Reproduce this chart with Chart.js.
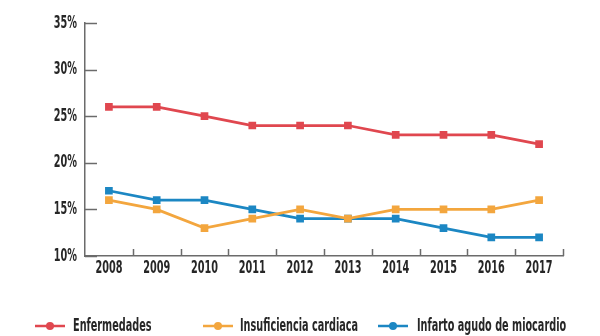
<!DOCTYPE html>
<html>
<head>
<meta charset="utf-8">
<script src="https://cdn.jsdelivr.net/npm/chart.js@4"></script>
<style>
  html, body { margin: 0; padding: 0; background: #fff; }
  #wrap { width: 600px; height: 336px; }
</style>
</head>
<body>
<div id="wrap"><canvas id="lineChart" width="600" height="336"></canvas></div>
<script>
const years = ['2008', '2009', '2010', '2011', '2012', '2013', '2014', '2015', '2016', '2017'];
const enfermedades = [26, 26, 25, 24, 24, 24, 23, 23, 23, 22];
const insuficiencia = [16, 15, 13, 14, 15, 14, 15, 15, 15, 16];
const infarto = [17, 16, 16, 15, 14, 14, 14, 13, 12, 12];
const yTicks = [10, 15, 20, 25, 30, 35];

const RED = '#e0474f';
const ORANGE = '#f3a63e';
const BLUE = '#1c87c3';
const AXIS = '#6b6b6b';
const TEXT = '#262626';
const FONT = "bold 18px 'DejaVu Sans Condensed', 'DejaVu Sans', sans-serif";

// legend slots: marker start x and text start x
const legendSlots = [[35, 73], [203, 240], [378, 417]];
const legendY = 326;

// draws text squeezed horizontally so it looks like a tall condensed face
let squeezed = function(ctx, text, x, y, align, sx) {
  ctx.save();
  ctx.translate(x, y);
  ctx.scale(sx, 1);
  ctx.textAlign = align;
  ctx.textBaseline = 'middle';
  ctx.fillText(text, 0, 0);
  ctx.restore();
}

// axis labels, inward ticks and the legend
const decorations = {
  id: 'decorations',
  afterDatasetsDraw(chart) {
    const ctx = chart.ctx;
    const x = chart.scales.x, y = chart.scales.y;
    ctx.save();
    ctx.font = FONT;
    const sx = 27 / ctx.measureText('2008').width;

    ctx.strokeStyle = AXIS;
    ctx.lineWidth = 1.5;
    y.ticks.forEach((t, i) => {
      const py = Math.round(y.getPixelForTick(i)) + 0.5;
      ctx.beginPath(); ctx.moveTo(y.right, py); ctx.lineTo(y.right + 12, py); ctx.stroke();
    });
    const step = (x.right - x.left) / years.length;
    for (let i = 1; i <= years.length; i++) {
      const px = Math.round(x.left + i * step) + 0.5;
      ctx.beginPath(); ctx.moveTo(px, x.top); ctx.lineTo(px, x.top - 7); ctx.stroke();
    }

    ctx.fillStyle = TEXT;
    y.ticks.forEach((t, i) => {
      squeezed(ctx, t.value + '%', y.right - 8, y.getPixelForTick(i), 'right', sx);
    });
    years.forEach((lab, i) => {
      squeezed(ctx, lab, x.getPixelForTick(i), x.top + 12, 'center', sx);
    });

    chart.data.datasets.forEach((ds, i) => {
      const [mx, tx] = legendSlots[i];
      ctx.strokeStyle = ds.borderColor;
      ctx.lineWidth = 2.5;
      ctx.beginPath(); ctx.moveTo(mx, legendY); ctx.lineTo(mx + 30, legendY); ctx.stroke();
      ctx.fillStyle = ds.borderColor;
      ctx.beginPath(); ctx.arc(mx + 15, legendY, 4, 0, Math.PI * 2); ctx.fill();
      ctx.fillStyle = TEXT;
      squeezed(ctx, ds.label, tx, legendY, 'left', sx);
    });
    ctx.restore();
  }
};

const series = (label, data, color) => ({
  label: label,
  data: data,
  borderColor: color,
  backgroundColor: color,
  borderWidth: 2.75,
  pointStyle: 'rect',
  pointRadius: 3.5,
  pointHoverRadius: 3.5,
  lineTension: 0,
  fill: false
});

new Chart(document.getElementById('lineChart').getContext('2d'), {
  type: 'line',
  data: {
    labels: years,
    datasets: [
      series('Enfermedades', enfermedades, RED),
      series('Insuficiencia cardiaca', insuficiencia, ORANGE),
      series('Infarto agudo de miocardio', infarto, BLUE)
    ]
  },
  plugins: [decorations],
  options: {
    responsive: false,
    animation: false,
    layout: { padding: { top: 23, right: 37, bottom: 0, left: 0 } },
    plugins: {
      tooltip: { enabled: false },
      legend: { display: false }
    },
    scales: {
      x: {
        offset: true,
        grid: { display: false, drawTicks: false },
        border: { color: AXIS, width: 1.5 },
        ticks: { display: false },
        afterFit(scale) { scale.height = 80; }
      },
      y: {
        min: 10,
        max: 35,
        afterBuildTicks(scale) { scale.ticks = yTicks.map(v => ({ value: v })); },
        grid: { display: false, drawTicks: false },
        border: { color: AXIS, width: 1.5 },
        ticks: { display: false },
        afterFit(scale) { scale.width = 85; }
      }
    }
  }
});
</script>
</body>
</html>
